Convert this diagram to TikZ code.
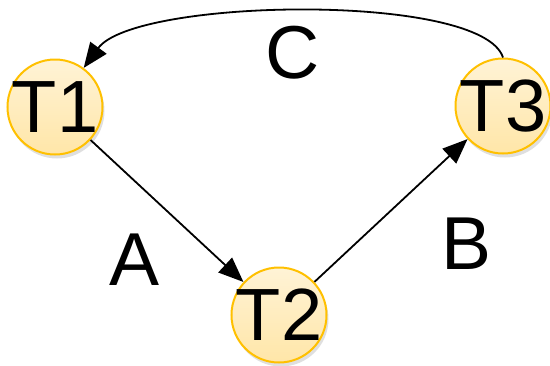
\documentclass[tikz,border=0pt]{standalone}
\usepackage{fontspec}
\setmainfont{Liberation Sans}
\usetikzlibrary{arrows.meta,shadows}
\definecolor{gold}{HTML}{FFC000}
\definecolor{filltop}{HTML}{FFF3D6}
\definecolor{fillbot}{HTML}{FFE6A8}
\tikzset{
  state/.style={circle, draw=gold, line width=2pt, top color=filltop, bottom color=fillbot,
    minimum size=95pt, inner sep=0pt, font=\fontsize{74}{74}\selectfont,
    drop shadow={opacity=0.25, shadow xshift=2pt, shadow yshift=-4pt}},
  lbl/.style={inner sep=0pt, font=\fontsize{75}{75}\selectfont},
  arr/.style={line width=1.8pt, -{Triangle[length=25pt,width=20pt]}}
}
\begin{document}
\begin{tikzpicture}[x=1pt,y=-1pt]
\useasboundingbox (0,0) rectangle (550,365);
\node[state] (T1) at (55,107) {\makebox[0pt]{T1}};
\node[state] (T2) at (279,315) {\makebox[0pt]{T2}};
\node[state] (T3) at (503,106) {\makebox[0pt]{T3}};
\node[lbl] (A) at (135,260) {A};
\node[lbl] (B) at (467,244) {B};
\node[lbl] (C) at (293,53) {C};
\draw[arr] (T1) -- (T2);
\draw[arr] (T2) -- (T3);
\draw[arr] (T3.north) .. controls (482,-8) and (135,-2) .. (T1);
\end{tikzpicture}
\end{document}
